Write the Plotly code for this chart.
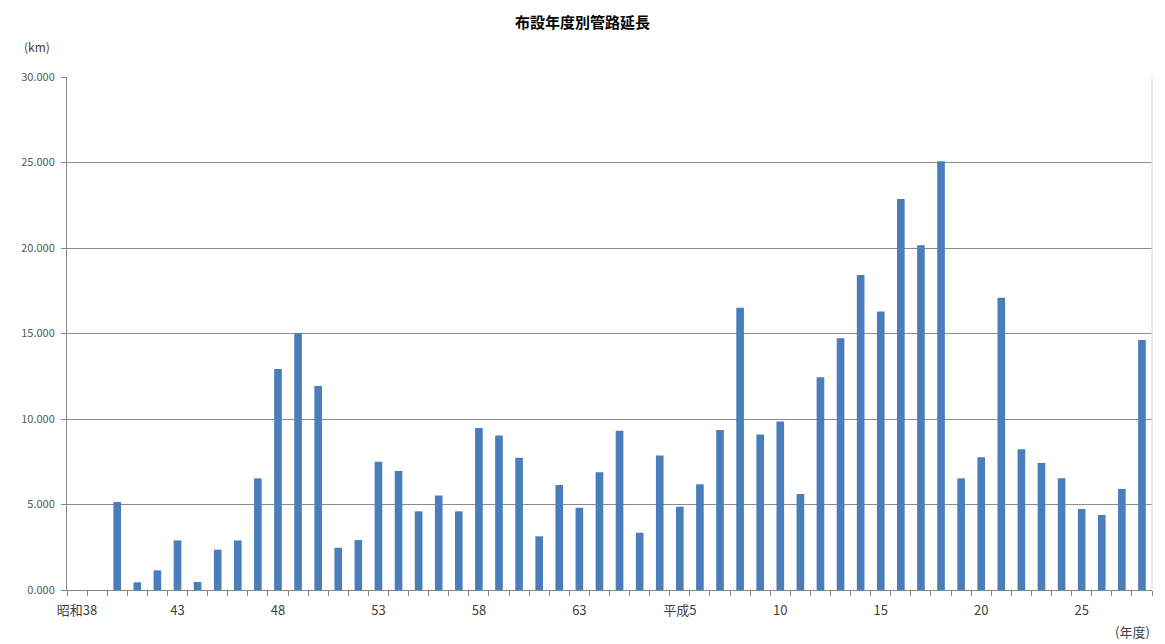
import plotly.graph_objects as go

# Fiscal years (categories)
showa = [f"昭和{y}" for y in range(38, 64)]
heisei = ["平成元"] + [f"平成{y}" for y in range(2, 29)]
categories = showa + heisei

# Pipe length installed per fiscal year (km)
showa_values = [None, None, 5.15, 0.45, 1.15, 2.90, 0.47, 2.36, 2.90, 6.53,
                12.92, 15.03, 11.93, 2.47, 2.92, 7.50, 6.96, 4.60, 5.52, 4.60,
                9.47, 9.04, 7.74, 3.14, 6.14, 4.81]
heisei_values = [6.88, 9.32, 3.35, 7.86, 4.87, 6.18, 9.36, 16.51, 9.10, 9.86,
                 5.61, 12.44, 14.72, 18.42, 16.29, 22.87, 20.16, 25.07, 6.53, 7.76,
                 17.09, 8.23, 7.43, 6.53, 4.74, 4.39, 5.91, 14.62]
values = showa_values + heisei_values

# Tick labels shown on the x axis
tick_label_map = {"昭和38": "昭和38", "昭和43": "43", "昭和48": "48", "昭和53": "53",
                  "昭和58": "58", "昭和63": "63", "平成5": "平成5", "平成10": "10",
                  "平成15": "15", "平成20": "20", "平成25": "25"}
tick_text = [tick_label_map.get(c, "") for c in categories]

y_ticks = [0, 5, 10, 15, 20, 25, 30]

FONT = "Noto Sans CJK JP"

fig = go.Figure(go.Bar(x=categories, y=values, marker_color="#4A7EBB",
                       marker_line_width=0))

fig.update_layout(
    width=1165, height=644,
    margin=dict(l=67, r=13, t=77, b=54),
    paper_bgcolor="white", plot_bgcolor="white",
    bargap=0.62,
    showlegend=False,
    font=dict(family=FONT, color="#404040"),
    title=dict(text="<b>布設年度別管路延長</b>", x=0.5, xanchor="center",
               y=0.965, yanchor="middle", font=dict(size=15, color="#000000", family=FONT)),
)

fig.update_xaxes(
    type="category", tickmode="array", tickvals=categories, ticktext=tick_text,
    tickson="boundaries", ticks="outside", ticklen=5, tickcolor="#868686",
    showline=True, linecolor="#868686", linewidth=1,
    showgrid=False, tickfont=dict(size=13, color="#404040"),
    tickangle=0, ticklabelstandoff=8,
)
fig.update_yaxes(
    range=[0, 30], tickmode="array", tickvals=y_ticks, tickformat=".3f",
    ticks="outside", ticklen=5, tickcolor="#868686",
    showline=True, linecolor="#868686", linewidth=1,
    showgrid=True, gridcolor="#8C8C8C", gridwidth=1,
    tickfont=dict(size=11, color="#595959"), ticklabelstandoff=4,
    zeroline=False,
)

# Light right border of plot area
fig.add_shape(type="line", xref="paper", yref="paper", x0=1, x1=1, y0=0, y1=1,
              line=dict(color="#D9D9D9", width=1))

fig.add_annotation(text="(km)", xref="paper", yref="paper", x=-0.028, y=1.06,
                   xanchor="center", yanchor="middle", showarrow=False,
                   font=dict(size=12, color="#404040", family=FONT))
fig.add_annotation(text="(年度)", xref="paper", yref="paper", x=1.0, y=-0.08,
                   xanchor="right", yanchor="middle", showarrow=False,
                   font=dict(size=13, color="#404040", family=FONT))

fig.write_html("out.html")
